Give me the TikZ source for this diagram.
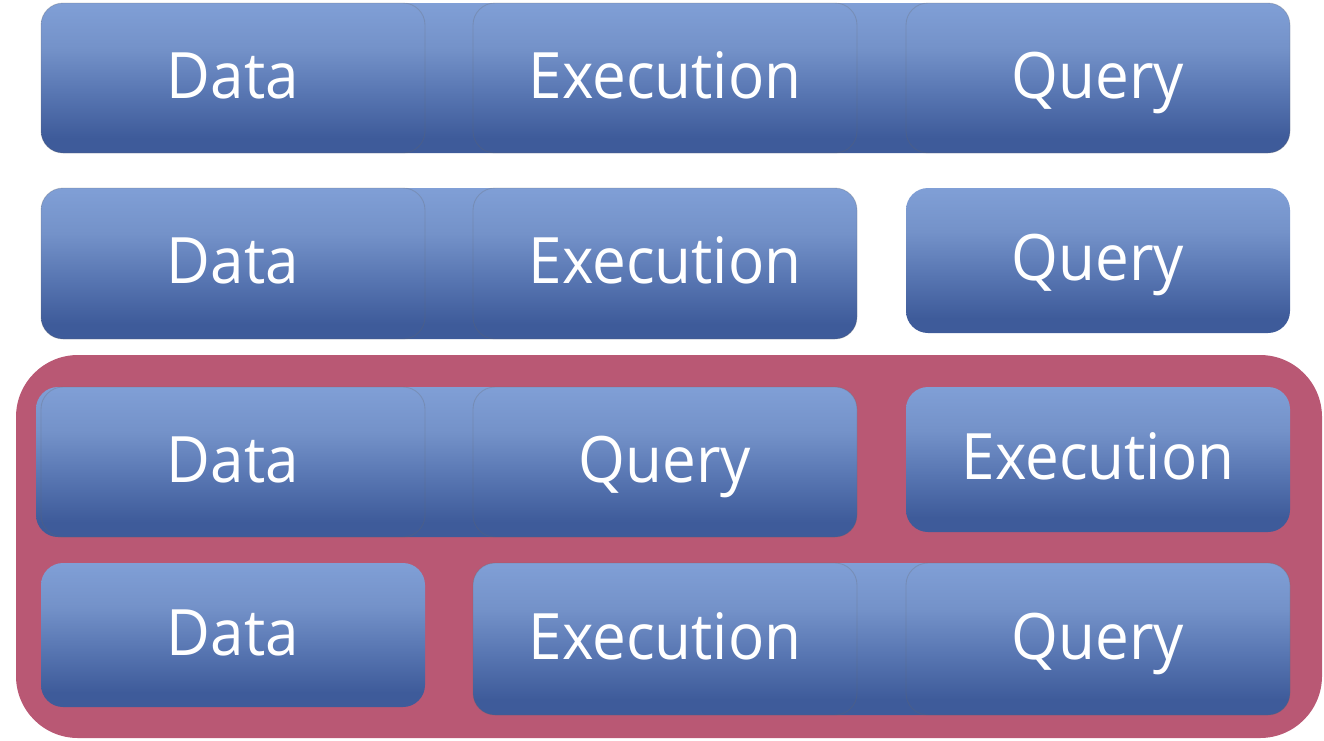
\documentclass[tikz,border=0pt]{standalone}
\usepackage{fontspec}
\setmainfont{Open Sans}[FakeStretch=0.94]
\definecolor{blight}{RGB}{128,159,214}
\definecolor{blight2}{RGB}{116,146,201}
\definecolor{bmid}{RGB}{88,118,178}
\definecolor{bdark}{RGB}{62,91,154}
\definecolor{frame}{RGB}{185,88,116}
\pgfdeclareverticalshading{tileshade}{100bp}{%
  color(0bp)=(bdark); color(30bp)=(bdark); color(45bp)=(bmid);
  color(60bp)=(blight2); color(75bp)=(blight); color(100bp)=(blight)}
\tikzset{
  tile/.style={rectangle, rounded corners=22pt, inner sep=0pt, outer sep=0pt,
    minimum width=384pt, text=white, font=\fontsize{64}{64}\selectfont,
    text height=45pt, text depth=5pt},
  solo/.style={tile, shading=tileshade, draw=none},
  ghost/.style={tile, draw=black!60, draw opacity=0.25, line width=0.9pt},
  hull/.style={rectangle, rounded corners=22pt, inner sep=0pt, outer sep=0pt,
    shading=tileshade, draw=none},
}
\begin{document}
\begin{tikzpicture}[x=1pt,y=-1pt]
\useasboundingbox (0,0) rectangle (1324,740);

% pink frame around the two lower rows
\fill[frame, rounded corners=62pt] (16,355) rectangle (1322,738);

% row 1: all three tiles fused
\node[hull, minimum width=1249pt, minimum height=150pt] (h1) at (665.5,78) {};
\node[ghost, minimum height=150pt] (d1) at (233,78) {Data};
\node[ghost, minimum height=150pt] (e1) at (665,78) {Execution};
\node[ghost, minimum height=150pt] (q1) at (1098,78) {Query};

% row 2: data and execution fused, query apart
\node[hull, minimum width=816pt, minimum height=151pt] (h2) at (449,263.5) {};
\node[ghost, minimum height=151pt] (d2) at (233,263.5) {Data};
\node[ghost, minimum height=151pt] (e2) at (665,263.5) {Execution};
\node[solo, minimum height=145pt] (q2) at (1098,260.5) {Query};

% row 3: data and query fused, execution apart
\node[hull, minimum width=821pt, minimum height=150pt] (h3) at (446.5,462) {};
\node[ghost, minimum height=150pt] (d3) at (233,462) {Data};
\node[ghost, minimum height=150pt] (q3) at (665,462) {Query};
\node[solo, minimum height=145pt] (e3) at (1098,459.5) {Execution};

% row 4: data apart, execution and query fused
\node[solo, minimum height=144pt] (d4) at (233,635) {Data};
\node[hull, minimum width=817pt, minimum height=152pt] (h4) at (881.5,639) {};
\node[ghost, minimum height=152pt] (e4) at (665,639) {Execution};
\node[ghost, minimum height=152pt] (q4) at (1098,639) {Query};
\end{tikzpicture}
\end{document}
